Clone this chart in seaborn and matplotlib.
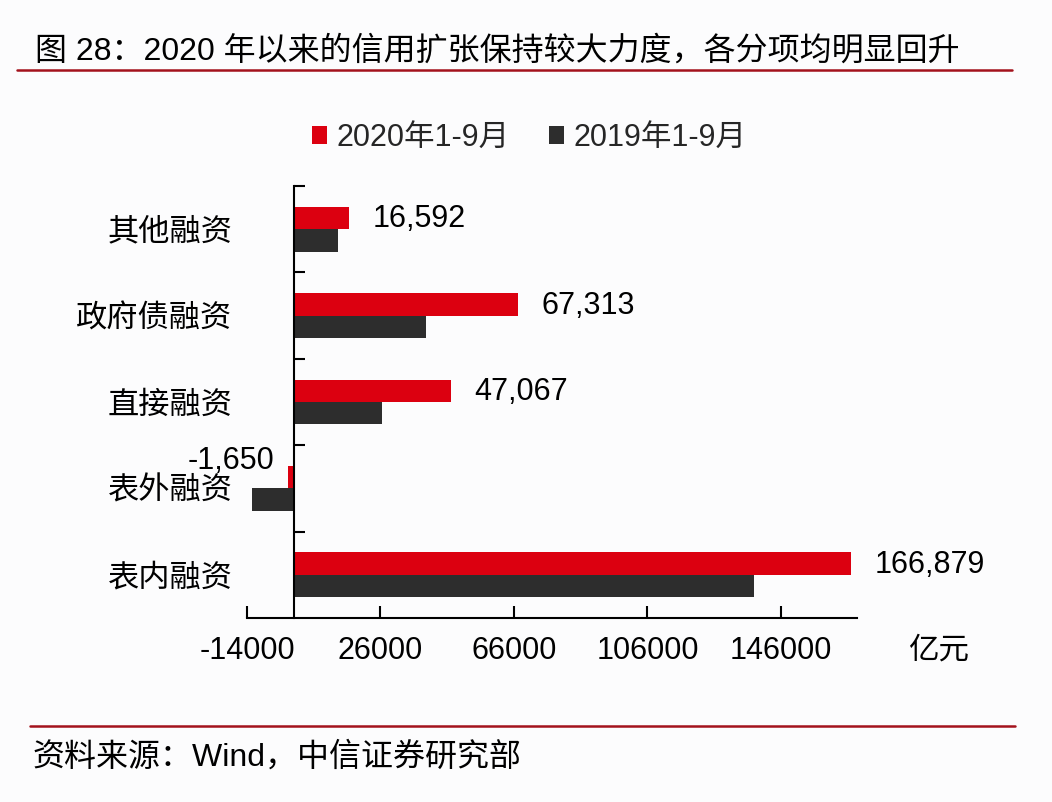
import matplotlib
matplotlib.use('Agg')
import matplotlib.pyplot as plt
import seaborn as sns
import pandas as pd
from matplotlib.patches import Patch
from matplotlib.lines import Line2D

categories = ['其他融资', '政府债融资', '直接融资', '表外融资', '表内融资']
series_names = ['2020年1-9月', '2019年1-9月']
values_2020 = [16592, 67313, 47067, -1650, 166879]
values_2019 = [13200, 39500, 26400, -12400, 137900]
label_texts = ['16,592', '67,313', '47,067', '-1,650', '166,879']
x_ticks = [-14000, 26000, 66000, 106000, 146000]
title = '图 28：2020 年以来的信用扩张保持较大力度，各分项均明显回升'
source = '资料来源：Wind，中信证券研究部'
unit = '亿元'

RED = '#DC0010'
DARK = '#2D2D2D'
BG = '#FCFCFD'
RULE = '#A3121C'

sns.set_theme(style='white')
plt.rcParams['font.family'] = ['Liberation Sans', 'Noto Sans CJK SC', 'DejaVu Sans']
plt.rcParams['axes.unicode_minus'] = False

df = pd.DataFrame({
    'cat': categories * 2,
    'val': values_2020 + values_2019,
    'series': [series_names[0]] * len(categories) + [series_names[1]] * len(categories),
})

W, H = 1052, 802
fig = plt.figure(figsize=(W / 100, H / 100), dpi=100)
fig.patch.set_facecolor(BG)

ax_left, ax_right, ax_top, ax_bottom = 247, 857, 186, 618
ax = fig.add_axes([ax_left / W, 1 - ax_bottom / H, (ax_right - ax_left) / W, (ax_bottom - ax_top) / H])
ax.set_facecolor(BG)

sns.barplot(data=df, y='cat', x='val', hue='series', order=categories, hue_order=series_names,
            palette=[RED, DARK], width=0.52, orient='h', ax=ax, legend=False,
            saturation=1, errorbar=None, linewidth=0)

ax.set_xlim(-14000, 168800)
ax.set_ylim(len(categories) - 0.5, -0.5)
ax.set_xlabel('')
ax.set_ylabel('')

# y axis: boundary ticks (major), labels at centres (minor)
ax.set_yticks([i - 0.5 for i in range(len(categories))])
ax.set_yticklabels([])
ax.set_yticks(list(range(len(categories))), labels=categories, minor=True)
ax.tick_params(axis='y', which='major', direction='in', length=8, width=1.5, color='black', left=True)
ax.tick_params(axis='y', which='minor', length=0, pad=44, labelsize=22.5, labelcolor='black')

ax.set_xticks(x_ticks, labels=[str(t) for t in x_ticks])
ax.tick_params(axis='x', which='major', direction='in', length=9, width=1.5, color='black',
               bottom=True, pad=13, labelsize=22, labelcolor='black')

for s in ['top', 'right']:
    ax.spines[s].set_visible(False)
for s in ['left', 'bottom']:
    ax.spines[s].set_color('black')
    ax.spines[s].set_linewidth(1.5)
ax.spines['left'].set_position(('data', 0))

# data labels on 2020 bars
for i, (v, t) in enumerate(zip(values_2020, label_texts)):
    if v >= 0:
        ax.annotate(t, xy=(v, i - 0.13), xytext=(17, -1), textcoords='offset points',
                    ha='left', va='center', fontsize=22, color='black')
    else:
        ax.annotate(t, xy=(v, i - 0.13), xytext=(-10, 12), textcoords='offset points',
                    ha='right', va='center', fontsize=22, color='black')

# legend
handles = [Patch(facecolor=RED, edgecolor='none'), Patch(facecolor=DARK, edgecolor='none')]
fig.legend(handles=handles, labels=series_names, loc='center', bbox_to_anchor=(529 / W, 1 - 138 / H),
           ncol=2, frameon=False, fontsize=22, handlelength=0.5, handleheight=0.5,
           handletextpad=0.3, columnspacing=1.3)

# unit
fig.text(908 / W, 1 - 651 / H, unit, fontsize=22, ha='left', va='center', color='black')

# title and rules
fig.text(35 / W, 1 - 51 / H, title, fontsize=23, ha='left', va='center', color='black')
fig.add_artist(Line2D([17 / W, 1012 / W], [1 - 70 / H, 1 - 70 / H], color=RULE, linewidth=1.8,
                      transform=fig.transFigure))
fig.add_artist(Line2D([30 / W, 1015 / W], [1 - 726 / H, 1 - 726 / H], color=RULE, linewidth=1.8,
                      transform=fig.transFigure))
fig.text(32 / W, 1 - 757 / H, source, fontsize=23, ha='left', va='center', color='black')

fig.savefig('out.png', dpi=100, facecolor=BG)
